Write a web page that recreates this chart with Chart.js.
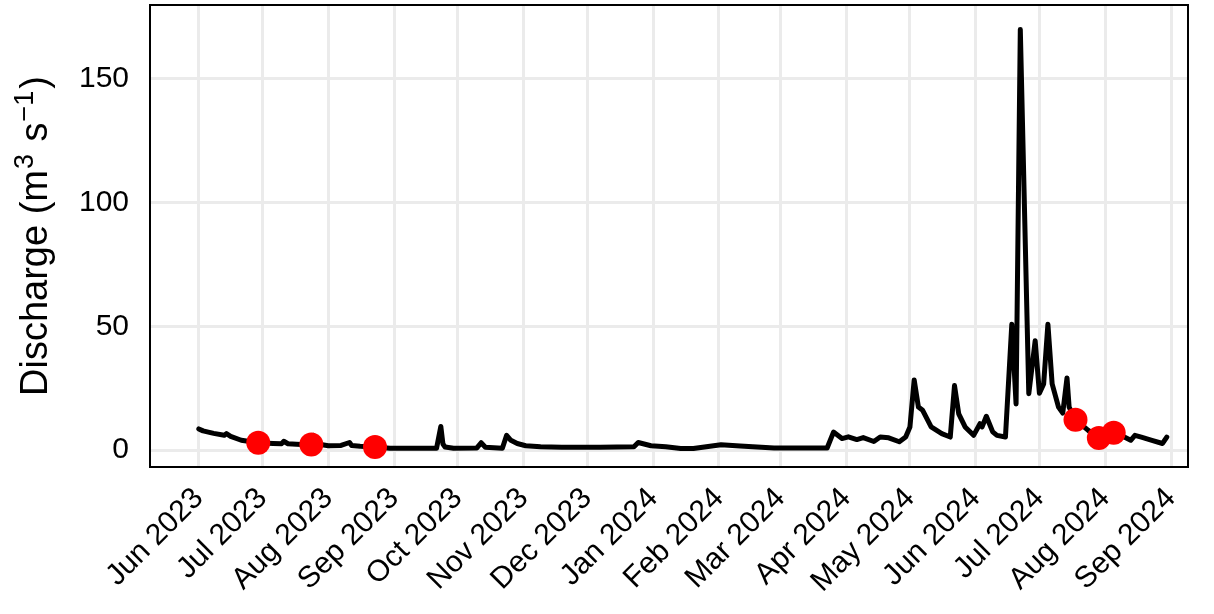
<!DOCTYPE html>
<html>
<head>
<meta charset="utf-8">
<script src="https://cdn.jsdelivr.net/npm/chart.js@4.4.1/dist/chart.umd.min.js"></script>
<style>
  html, body { margin: 0; padding: 0; background: #ffffff; }
  #wrap { width: 1214px; height: 614px; }
</style>
</head>
<body>
<div id="wrap"><canvas id="chart" width="1214" height="614"></canvas></div>
<script>
// Daily discharge record (selected days)
const flowDates = [
  '2023-06-01','2023-06-03','2023-06-08','2023-06-13','2023-06-14','2023-06-16','2023-06-21','2023-06-29',
  '2023-07-06','2023-07-10','2023-07-11','2023-07-13','2023-07-17','2023-07-22','2023-07-24','2023-07-25',
  '2023-07-27','2023-08-01','2023-08-07','2023-08-11','2023-08-12','2023-08-16','2023-08-23','2023-08-30',
  '2023-09-21','2023-09-23','2023-09-24','2023-09-25','2023-09-29','2023-10-10','2023-10-12','2023-10-14',
  '2023-10-22','2023-10-24','2023-10-26','2023-10-29','2023-11-02','2023-11-09','2023-11-19','2023-12-07',
  '2023-12-23','2023-12-25','2023-12-31','2024-01-07','2024-01-14','2024-01-20','2024-02-02','2024-02-11',
  '2024-02-27','2024-03-23','2024-03-26','2024-03-30','2024-04-02','2024-04-06','2024-04-09','2024-04-14',
  '2024-04-17','2024-04-21','2024-04-26','2024-04-29','2024-05-01','2024-05-03','2024-05-05','2024-05-07',
  '2024-05-11','2024-05-16','2024-05-20','2024-05-22','2024-05-24','2024-05-27','2024-05-31','2024-06-03',
  '2024-06-04','2024-06-06','2024-06-09','2024-06-11','2024-06-15','2024-06-18','2024-06-20','2024-06-22',
  '2024-06-26','2024-06-29','2024-07-01','2024-07-03','2024-07-05','2024-07-07','2024-07-10','2024-07-12',
  '2024-07-14','2024-07-15','2024-07-17','2024-07-18','2024-07-24','2024-07-29','2024-08-01','2024-08-05',
  '2024-08-10','2024-08-13','2024-08-15','2024-08-18','2024-08-23','2024-08-28','2024-08-30'
];
const flowValues = [
  8.6, 7.8, 6.8, 6.0, 6.7, 5.6, 4.0, 3.0,
  2.7, 2.6, 3.6, 2.6, 2.4, 2.2, 2.3, 6.0,
  2.5, 1.8, 1.9, 3.1, 1.9, 1.6, 1.3, 0.8,
  0.8, 9.6, 2.5, 1.3, 0.8, 0.9, 3.0, 1.2,
  0.8, 6.0, 4.0, 2.7, 1.8, 1.4, 1.2, 1.2,
  1.4, 3.1, 1.8, 1.4, 0.7, 0.7, 2.2, 1.7,
  0.9, 0.9, 7.3, 4.7, 5.4, 4.3, 5.1, 3.5,
  5.3, 5.0, 3.4, 5.3, 9.4, 28.4, 17.4, 16.1,
  9.4, 6.7, 5.3, 26.1, 14.7, 9.4, 6.0, 10.7,
  9.4, 13.7, 7.4, 6.0, 5.3, 50.9, 18.7, 170.0,
  22.8, 44.2, 23.0, 26.8, 50.9, 26.8, 17.4, 15.0,
  29.2, 17.4, 14.0, 12.3, 8.0, 4.9, 5.5, 7.0,
  5.3, 4.0, 6.0, 5.3, 4.0, 2.7, 5.3
];

// Sampling days
const sampleDates = ['2023-06-29','2023-07-24','2023-08-23','2024-07-18','2024-07-29','2024-08-05'];
const sampleValues = [3.0, 2.3, 1.3, 12.3, 4.9, 7.0];

// Month ticks
const monthTicks = [
  '2023-06-01','2023-07-01','2023-08-01','2023-09-01','2023-10-01','2023-11-01','2023-12-01',
  '2024-01-01','2024-02-01','2024-03-01','2024-04-01','2024-05-01','2024-06-01','2024-07-01',
  '2024-08-01','2024-09-01'
];
const monthLabels = [
  'Jun 2023','Jul 2023','Aug 2023','Sep 2023','Oct 2023','Nov 2023','Dec 2023',
  'Jan 2024','Feb 2024','Mar 2024','Apr 2024','May 2024','Jun 2024','Jul 2024',
  'Aug 2024','Sep 2024'
];
const yTicks = [0, 50, 100, 150];

// Y-axis title pieces: [text, superscript?]
const yTitleParts = [['Discharge (m', false], ['3', true], [' s', false], ['\u22121', true], [')', false]];

// Dates are placed on a linear day axis counted from the first record
const ORIGIN = Date.UTC(2023, 5, 1);
function dayNumber(s) {
  const [y, m, d] = s.split('-').map(Number);
  return (Date.UTC(y, m - 1, d) - ORIGIN) / 86400000;
}

const flowPoints = flowDates.map((d, i) => ({ x: dayNumber(d), y: flowValues[i] }));
const samplePoints = sampleDates.map((d, i) => ({ x: dayNumber(d), y: sampleValues[i] }));
const tickDays = monthTicks.map(dayNumber);

const FONT = "'Liberation Sans', Arial, Helvetica, sans-serif";

// Black frame around the panel
const panelFrame = {
  id: 'panelFrame',
  afterDatasetsDraw(chart) {
    const { ctx, chartArea: a } = chart;
    ctx.save();
    ctx.strokeStyle = '#000000';
    ctx.lineWidth = 2;
    ctx.strokeRect(a.left, a.top, a.right - a.left, a.bottom - a.top);
    ctx.restore();
  }
};

// Rotated y-axis title with superscript units
const yAxisTitle = {
  id: 'yAxisTitle',
  afterDraw(chart) {
    const { ctx, chartArea: a } = chart;
    const mainFont = '38px ' + FONT;
    const supFont = '27px ' + FONT;
    const gap = 3;
    ctx.save();
    let total = 0;
    const widths = yTitleParts.map(([t, sup]) => {
      ctx.font = sup ? supFont : mainFont;
      const w = ctx.measureText(t).width + (sup ? gap : 0);
      total += w;
      return w;
    });
    const cy = (a.top + a.bottom) / 2;
    ctx.translate(47, cy);
    ctx.rotate(-Math.PI / 2);
    ctx.fillStyle = '#000000';
    ctx.textBaseline = 'alphabetic';
    ctx.textAlign = 'left';
    let x = -total / 2;
    yTitleParts.forEach(([t, sup], i) => {
      ctx.font = sup ? supFont : mainFont;
      ctx.fillText(t, x + (sup ? 1 : 0), sup ? -14 : 0);
      x += widths[i];
    });
    ctx.restore();
  }
};

new Chart(document.getElementById('chart'), {
  type: 'line',
  data: {
    datasets: [
      {
        label: 'Sampling',
        type: 'scatter',
        data: samplePoints,
        pointRadius: 12,
        pointHoverRadius: 12,
        pointBackgroundColor: '#ff0000',
        pointBorderColor: '#ff0000',
        pointBorderWidth: 0,
        showLine: false,
        order: 0
      },
      {
        label: 'Discharge',
        data: flowPoints,
        borderColor: '#000000',
        borderWidth: 5,
        borderJoinStyle: 'round',
        borderCapStyle: 'round',
        pointRadius: 0,
        tension: 0,
        fill: false,
        order: 1
      }
    ]
  },
  options: {
    responsive: false,
    animation: false,
    layout: { autoPadding: false, padding: { top: 5, right: 26, left: 0, bottom: 0 } },
    plugins: {
      legend: { display: false },
      tooltip: { enabled: false }
    },
    scales: {
      x: {
        type: 'linear',
        min: dayNumber('2023-05-09'),
        max: dayNumber('2024-09-09'),
        afterBuildTicks(scale) {
          scale.ticks = tickDays.map(v => ({ value: v }));
        },
        afterFit(scale) {
          scale.height = 147;
          scale.paddingLeft = 0;
          scale.paddingRight = 0;
        },
        grid: { color: '#ebebeb', lineWidth: 3, drawTicks: false },
        border: { display: false },
        ticks: {
          autoSkip: false,
          minRotation: 45,
          maxRotation: 45,
          padding: 14,
          color: '#000000',
          font: { family: FONT, size: 30 },
          callback(value, index) { return monthLabels[index]; }
        }
      },
      y: {
        type: 'linear',
        min: -6.8,
        max: 179.9,
        afterBuildTicks(scale) {
          scale.ticks = yTicks.map(v => ({ value: v }));
        },
        afterFit(scale) {
          scale.width = 150;
          scale.paddingTop = 0;
          scale.paddingBottom = 0;
        },
        grid: { color: '#ebebeb', lineWidth: 3, drawTicks: false },
        border: { display: false },
        ticks: {
          padding: 21,
          color: '#000000',
          font: { family: FONT, size: 30 }
        },
        title: { display: false }
      }
    }
  },
  plugins: [panelFrame, yAxisTitle]
});
</script>
</body>
</html>
